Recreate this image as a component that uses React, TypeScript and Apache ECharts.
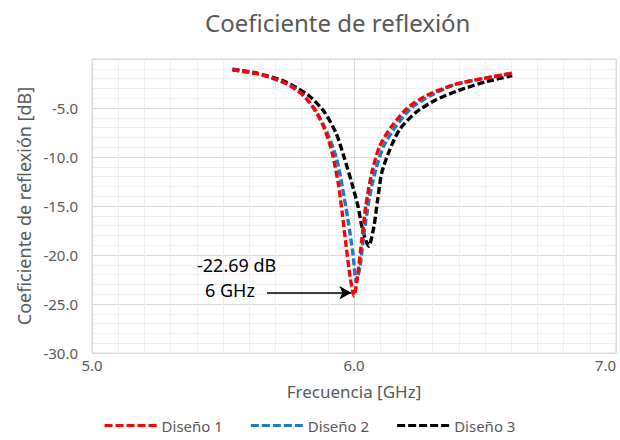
import React, { useEffect, useRef } from "react";
import * as echarts from "echarts";

const freq1 = [5.536, 5.63, 5.705, 5.76, 5.811, 5.857, 5.894, 5.917, 5.94, 5.955, 5.97, 5.985, 6.0, 6.015, 6.03, 6.045, 6.068, 6.098, 6.143, 6.204, 6.279, 6.385, 6.491, 6.604];
const s11_1 = [-1.1, -1.5, -2.1, -2.8, -3.8, -5.4, -7.6, -9.6, -12.7, -15.7, -19.1, -22.2, -24.2, -21.8, -18.4, -15.0, -11.6, -8.9, -6.9, -5.0, -3.7, -2.6, -2.0, -1.45];

const freq2 = [5.536, 5.63, 5.705, 5.77, 5.826, 5.887, 5.932, 5.955, 5.977, 5.997, 6.008, 6.023, 6.038, 6.06, 6.083, 6.113, 6.159, 6.219, 6.295, 6.385, 6.491, 6.604];
const s11_2 = [-1.1, -1.5, -2.1, -2.9, -4.3, -6.9, -10.0, -13.0, -16.4, -20.1, -22.7, -21.2, -17.8, -14.0, -11.3, -8.9, -6.9, -5.0, -3.7, -2.6, -2.0, -1.45];

const freq3 = [5.536, 5.63, 5.736, 5.826, 5.887, 5.932, 5.962, 5.992, 6.015, 6.03, 6.045, 6.056, 6.076, 6.09, 6.106, 6.136, 6.174, 6.234, 6.31, 6.4, 6.506, 6.604];
const s11_3 = [-1.05, -1.45, -2.3, -3.7, -5.4, -7.6, -10.0, -12.7, -15.0, -17.1, -18.5, -19.1, -17.1, -14.4, -11.6, -9.3, -7.2, -5.5, -4.2, -3.2, -2.3, -1.7];

const seriesNames = ["Diseño 1", "Diseño 2", "Diseño 3"];
const seriesColors = ["#ff0000", "#1f78c8", "#000000"];
const xTicks = [5, 6, 7];
const yTicks = [-30, -25, -20, -15, -10, -5, 0];
const annotValue = "-22.69 dB";
const annotFreq = "6 GHz";
const arrowFrom = [5.668, -23.85];
const arrowTo = [5.99, -23.85];

const pairs = (xs: number[], ys: number[]) => xs.map((x, i) => [x, ys[i]]);
const dashIcon = "path://M0,0h8v3h-8z M11,0h8v3h-8z M22,0h8v3h-8z M33,0h8v3h-8z M44,0h8v3h-8z";

export default function App() {
  const ref = useRef<HTMLDivElement>(null);
  useEffect(() => {
    if (!ref.current) return;
    const chart = echarts.init(ref.current, null, { renderer: "svg" });
    const font = "Noto Sans";
    const grey = "#595959";
    const datasets = [pairs(freq1, s11_1), pairs(freq2, s11_2), pairs(freq3, s11_3)];
    chart.setOption({
      animation: false,
      backgroundColor: "#ffffff",
      textStyle: { fontFamily: font },
      title: {
        text: "Coeficiente de reflexión",
        left: 200,
        top: 5,
        textStyle: { color: grey, fontSize: 24, fontWeight: "normal", fontFamily: font },
      },
      legend: {
        bottom: 2,
        left: "center",
        icon: dashIcon,
        itemWidth: 52,
        itemHeight: 3,
        itemGap: 28,
        data: seriesNames,
        textStyle: { color: grey, fontSize: 15, fontFamily: font },
      },
      grid: { left: 92, right: 4, top: 59, bottom: 87, show: true, borderColor: "#d9d9d9", borderWidth: 1 },
      xAxis: {
        type: "value",
        min: xTicks[0],
        max: xTicks[xTicks.length - 1],
        interval: 1,
        name: "Frecuencia [GHz]",
        nameLocation: "middle",
        nameGap: 30,
        nameTextStyle: { color: grey, fontSize: 17, fontFamily: font },
        axisLine: { show: false },
        axisTick: { show: false },
        axisLabel: { color: grey, fontSize: 15, formatter: (v: number) => v.toFixed(1), margin: 4, alignMaxLabel: "right" },
        splitLine: { show: true, lineStyle: { color: "#d9d9d9", width: 1 } },
        minorTick: { show: false, splitNumber: 10 },
        minorSplitLine: { show: true, lineStyle: { color: "#efefef", width: 1 } },
      },
      yAxis: {
        type: "value",
        min: yTicks[0],
        max: yTicks[yTicks.length - 1],
        interval: 5,
        name: "Coeficiente de reflexión [dB]",
        nameLocation: "middle",
        nameGap: 59,
        nameTextStyle: { color: grey, fontSize: 18, fontWeight: "normal", fontFamily: font },
        axisLine: { show: false },
        axisTick: { show: false },
        axisLabel: { color: grey, fontSize: 15, formatter: (v: number) => (v === 0 ? "" : v.toFixed(1)), margin: 14 },
        splitLine: { show: true, lineStyle: { color: "#d9d9d9", width: 1 } },
        minorTick: { show: false, splitNumber: 5 },
        minorSplitLine: { show: true, lineStyle: { color: "#efefef", width: 1 } },
      },
      series: seriesNames.map((name, i) => ({
        name,
        type: "line",
        data: datasets[i],
        smooth: 0.25,
        symbol: "none",
        z: 5 - i,
        lineStyle: { color: seriesColors[i], width: 3.4, type: [7, 3] },
        itemStyle: { color: seriesColors[i] },
        markLine:
          i === 0
            ? {
                silent: true,
                symbol: ["none", "arrow"],
                symbolSize: [10, 12],
                label: { show: false },
                lineStyle: { color: "#000000", width: 1.5, type: "solid" },
                data: [[{ coord: arrowFrom }, { coord: arrowTo }]],
              }
            : undefined,
      })),
      graphic: [
        { type: "text", left: 197, top: 256, z: 100, style: { text: annotValue, fill: "#000000", fontSize: 18, fontFamily: font } },
        { type: "text", left: 205, top: 281, z: 100, style: { text: annotFreq, fill: "#000000", fontSize: 18, fontFamily: font } },
      ],
    });
    return () => chart.dispose();
  }, []);
  return <div ref={ref} style={{ position: "absolute", left: 0, top: 0, width: 620, height: 440 }} />;
}
